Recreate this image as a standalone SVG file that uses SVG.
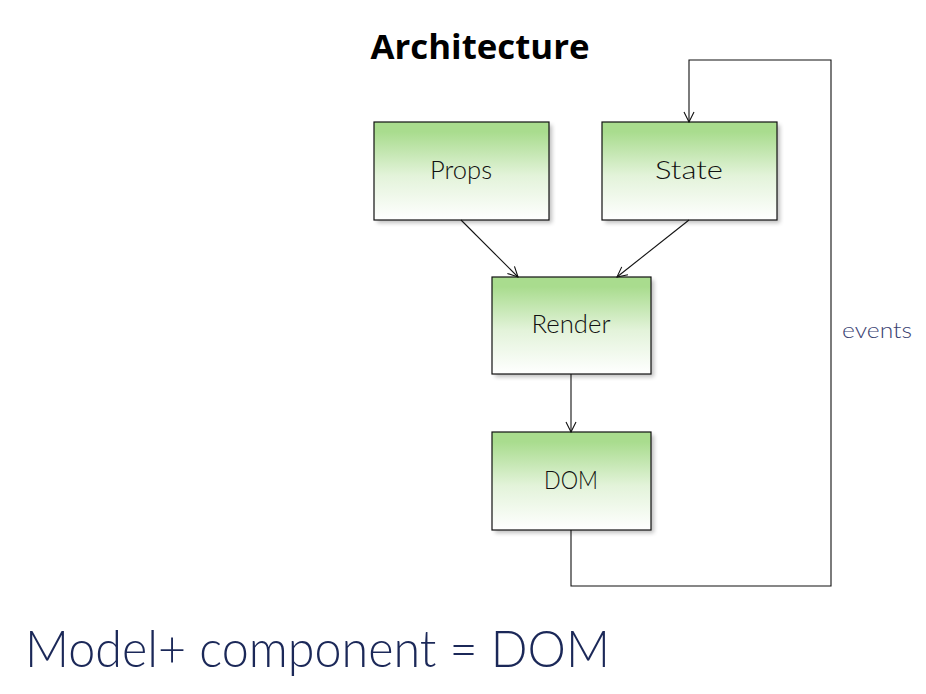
<svg xmlns="http://www.w3.org/2000/svg" width="926" height="694" viewBox="0 0 926 694">
<style>
.box{stroke:#111;stroke-width:1.2;fill:url(#g)}
.shadow{fill:#000;opacity:0.25;filter:url(#blur)}
.lbl{font-family:Lato,"Noto Sans",sans-serif;font-weight:300;font-size:25px;fill:#111;text-anchor:middle}
.conn{stroke:#111;stroke-width:1.1;fill:none;marker-end:url(#arr)}
</style>
<defs>
<linearGradient id="g" x1="0" y1="0" x2="0" y2="1">
<stop offset="0.1" stop-color="#a9dc8e"/>
<stop offset="0.55" stop-color="#e3f3da"/>
<stop offset="1" stop-color="#ffffff"/>
</linearGradient>
<filter id="blur" x="-10%" y="-10%" width="130%" height="130%"><feGaussianBlur stdDeviation="2"/></filter>
<marker id="arr" viewBox="0 0 12 12" refX="11" refY="6" markerWidth="12" markerHeight="12" markerUnits="userSpaceOnUse" orient="auto">
<path d="M1,1 L11,6 L1,11" fill="none" stroke="#111" stroke-width="1.1"/>
</marker>
</defs>
<rect width="926" height="694" fill="#fff"/>
<text x="480" y="59" text-anchor="middle" font-family="'Open Sans','Noto Sans',sans-serif" font-weight="700" font-size="34" textLength="219" lengthAdjust="spacingAndGlyphs" fill="#000">Architecture</text>
<g id="props">
<rect class="shadow" x="377" y="125" width="175" height="98"/>
<rect class="box" x="374" y="122" width="175" height="98"/>
<text class="lbl" x="461" y="179" textLength="62" lengthAdjust="spacingAndGlyphs">Props</text>
</g>
<g id="state">
<rect class="shadow" x="605" y="125" width="175" height="98"/>
<rect class="box" x="602" y="122" width="175" height="98"/>
<text class="lbl" x="689" y="179" textLength="68" lengthAdjust="spacingAndGlyphs">State</text>
</g>
<g id="render">
<rect class="shadow" x="495" y="280" width="159" height="97"/>
<rect class="box" x="492" y="277" width="159" height="97"/>
<text class="lbl" x="571" y="333" textLength="79" lengthAdjust="spacingAndGlyphs">Render</text>
</g>
<g id="dom">
<rect class="shadow" x="495" y="435" width="159" height="98"/>
<rect class="box" x="492" y="432" width="159" height="98"/>
<text class="lbl" x="571" y="489" textLength="54" lengthAdjust="spacingAndGlyphs">DOM</text>
</g>
<g id="connectors">
<line class="conn" x1="461" y1="220" x2="518" y2="277"/>
<line class="conn" x1="689" y1="220" x2="617" y2="277"/>
<line class="conn" x1="571" y1="374" x2="571" y2="432"/>
<polyline class="conn" points="571,530 571,586 831,586 831,60 689,60 689,122"/>
<text x="877" y="338" text-anchor="middle" font-family="Lato,'Noto Sans',sans-serif" font-weight="300" font-size="22" fill="#3a4272" textLength="70" lengthAdjust="spacingAndGlyphs">events</text>
</g>
<text x="25" y="667" font-family="Lato,'Noto Sans',sans-serif" font-weight="300" font-size="52" fill="#1b2858" textLength="585" lengthAdjust="spacingAndGlyphs">Model+ component = DOM</text>
</svg>
